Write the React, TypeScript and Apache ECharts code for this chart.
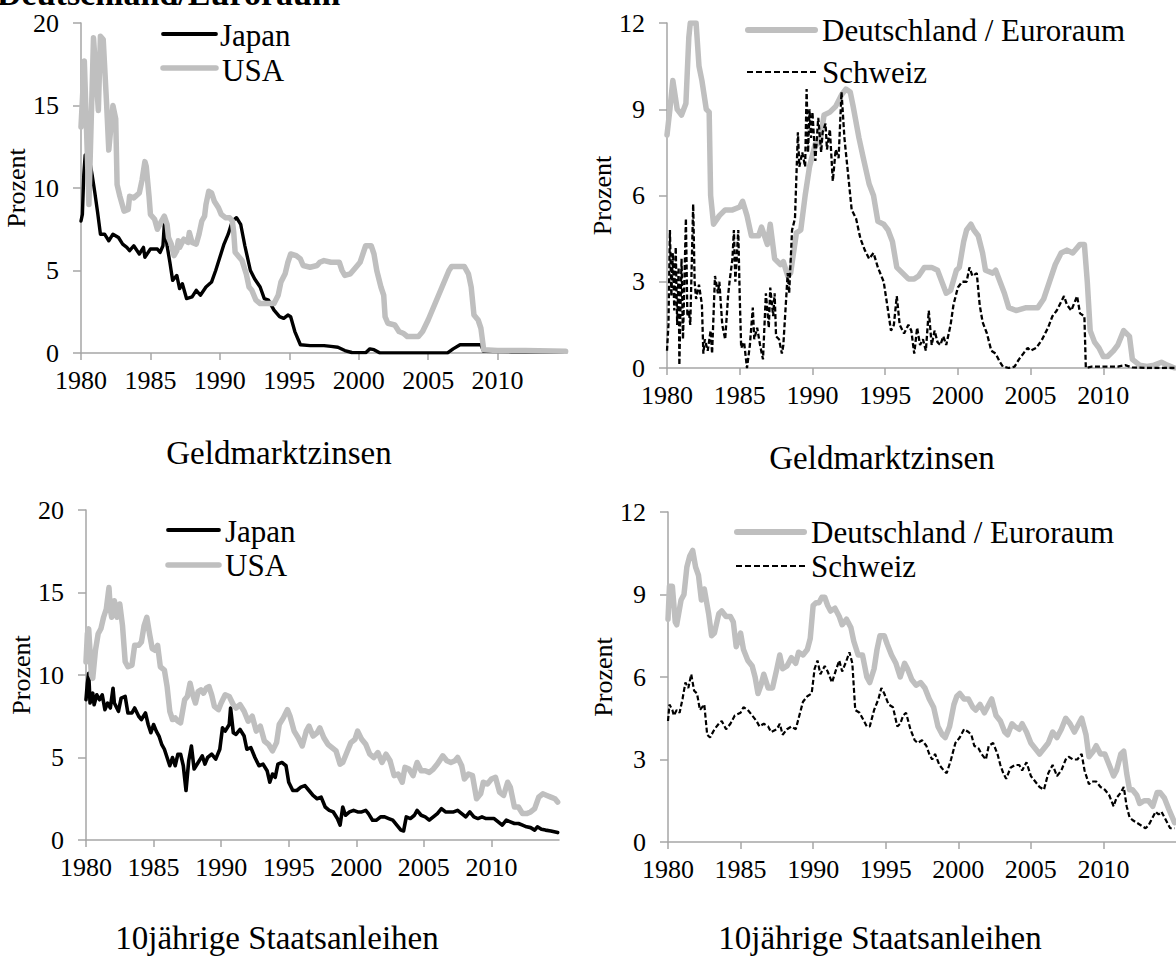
import React, { useEffect, useRef } from "react";
import * as echarts from "echarts";

// ---------- data: [year, percent] ----------
const xTicks = [1980, 1985, 1990, 1995, 2000, 2005, 2010];

const japanMoney = [
  [1980.0, 8.0], [1980.1, 8.4], [1980.2, 10.8], [1980.3, 12.0], [1980.55, 12.0], [1980.8, 10.8], [1981.0, 9.7],
  [1981.2, 8.5], [1981.4, 7.2], [1981.7, 7.2], [1982.0, 6.8], [1982.3, 7.2], [1982.7, 7.0], [1983.0, 6.6],
  [1983.3, 6.4], [1983.5, 6.2], [1983.8, 6.5], [1984.2, 6.0], [1984.5, 6.4], [1984.6, 5.8], [1985.0, 6.3],
  [1985.5, 6.3], [1985.7, 6.1], [1985.9, 6.5], [1986.0, 7.8], [1986.2, 6.5], [1986.4, 5.5], [1986.6, 4.4],
  [1986.9, 4.7], [1987.1, 3.9], [1987.3, 4.2], [1987.6, 3.3], [1988.0, 3.4], [1988.3, 3.8], [1988.6, 3.5],
  [1989.0, 4.0], [1989.4, 4.3], [1989.7, 5.0], [1990.0, 5.8], [1990.3, 6.6], [1990.6, 7.2], [1990.9, 8.0],
  [1991.2, 8.2], [1991.5, 7.8], [1991.8, 6.5], [1992.2, 5.0], [1992.5, 4.5], [1992.9, 4.0], [1993.2, 3.3],
  [1993.5, 3.2], [1993.9, 2.6], [1994.3, 2.2], [1994.6, 2.1], [1994.9, 2.3], [1995.1, 2.2], [1995.4, 1.3],
  [1995.8, 0.5], [1996.5, 0.45], [1997.5, 0.45], [1998.0, 0.4], [1998.5, 0.35], [1999.0, 0.15], [1999.5, 0.03],
  [2000.5, 0.02], [2000.8, 0.25], [2001.1, 0.2], [2001.5, 0.01], [2006.4, 0.01], [2006.8, 0.25], [2007.3, 0.5],
  [2008.8, 0.5], [2009.0, 0.1], [2011.0, 0.08], [2013.0, 0.07], [2014.9, 0.06],
];

const usaMoney = [
  [1980.0, 13.7], [1980.24, 17.7], [1980.57, 9.0], [1980.9, 19.1], [1981.25, 14.7], [1981.4, 19.2],
  [1981.6, 19.0], [1981.85, 15.0], [1982.0, 12.3], [1982.3, 15.0], [1982.5, 14.2], [1982.6, 10.2],
  [1982.8, 9.5], [1983.1, 8.6], [1983.4, 8.7], [1983.5, 9.5], [1983.8, 9.4], [1984.2, 9.7], [1984.4, 10.5],
  [1984.6, 11.6], [1984.7, 11.3], [1984.9, 9.5], [1985.0, 8.4], [1985.3, 8.1], [1985.5, 7.5], [1985.8, 8.0],
  [1986.0, 8.3], [1986.2, 7.8], [1986.3, 7.0], [1986.5, 6.6], [1986.7, 5.9], [1986.9, 6.2], [1987.0, 6.8],
  [1987.1, 6.4], [1987.4, 6.9], [1987.7, 6.7], [1987.8, 7.3], [1988.0, 6.7], [1988.3, 6.6], [1988.5, 7.2],
  [1988.7, 8.0], [1988.9, 8.3], [1989.0, 9.0], [1989.2, 9.8], [1989.4, 9.7], [1989.6, 9.2], [1989.9, 8.8],
  [1990.1, 8.4], [1990.4, 8.2], [1990.7, 8.2], [1990.9, 8.0], [1991.0, 7.3], [1991.1, 6.1], [1991.4, 5.8],
  [1991.6, 5.6], [1991.9, 4.8], [1992.1, 4.0], [1992.3, 3.8], [1992.6, 3.2], [1992.9, 3.0], [1993.5, 3.0],
  [1993.9, 3.0], [1994.2, 3.5], [1994.4, 4.3], [1994.7, 4.8], [1994.9, 5.5], [1995.1, 6.0], [1995.5, 5.9],
  [1995.8, 5.7], [1996.0, 5.3], [1996.5, 5.2], [1997.0, 5.3], [1997.2, 5.5], [1997.5, 5.6], [1998.0, 5.5],
  [1998.6, 5.5], [1998.8, 5.0], [1999.0, 4.7], [1999.4, 4.8], [1999.8, 5.2], [2000.1, 5.5], [2000.3, 6.0],
  [2000.5, 6.5], [2000.9, 6.5], [2001.1, 6.0], [2001.3, 5.0], [2001.6, 4.0], [2001.8, 3.5], [2001.9, 2.2],
  [2002.1, 1.8], [2002.6, 1.7], [2002.9, 1.3], [2003.2, 1.2], [2003.5, 1.0], [2004.3, 1.0], [2004.6, 1.3],
  [2005.0, 2.0], [2005.5, 3.0], [2006.0, 4.0], [2006.5, 5.0], [2006.7, 5.25], [2007.6, 5.25], [2007.9, 4.8],
  [2008.1, 4.0], [2008.3, 2.3], [2008.6, 2.0], [2008.8, 1.5], [2009.0, 0.2], [2010.0, 0.15], [2012.0, 0.15],
  [2014.9, 0.1],
];

const deMoney = [
  [1980.0, 8.1], [1980.2, 9.0], [1980.4, 10.0], [1980.7, 9.0], [1981.0, 8.8], [1981.3, 9.2], [1981.5, 11.5],
  [1981.6, 12.0], [1982.0, 12.0], [1982.2, 10.5], [1982.4, 10.0], [1982.7, 9.0], [1982.9, 8.9], [1983.0, 6.0],
  [1983.2, 5.0], [1983.6, 5.3], [1984.0, 5.5], [1984.5, 5.5], [1985.0, 5.6], [1985.2, 5.8], [1985.5, 5.3],
  [1985.8, 4.6], [1986.3, 4.6], [1986.5, 4.9], [1986.9, 4.3], [1987.1, 5.0], [1987.4, 3.8], [1987.8, 3.6],
  [1988.0, 3.7], [1988.3, 3.2], [1988.5, 3.3], [1988.9, 4.7], [1989.2, 4.8], [1989.5, 6.0], [1989.8, 7.0],
  [1990.2, 7.8], [1990.5, 7.8], [1990.8, 8.8], [1991.2, 8.9], [1991.6, 9.1], [1992.0, 9.5], [1992.3, 9.7],
  [1992.6, 9.6], [1992.8, 9.1], [1993.2, 8.0], [1993.5, 7.3], [1993.9, 6.4], [1994.2, 6.0], [1994.5, 5.1],
  [1994.9, 5.0], [1995.2, 4.8], [1995.5, 4.4], [1995.8, 3.5], [1996.2, 3.3], [1996.6, 3.1], [1997.0, 3.1],
  [1997.3, 3.2], [1997.7, 3.5], [1998.2, 3.5], [1998.6, 3.4], [1998.9, 3.0], [1999.2, 2.6], [1999.5, 2.7],
  [1999.9, 3.4], [2000.1, 3.5], [2000.4, 4.4], [2000.6, 4.8], [2000.9, 5.0], [2001.1, 4.8], [2001.4, 4.6],
  [2001.7, 4.0], [2001.9, 3.4], [2002.4, 3.3], [2002.6, 3.4], [2002.9, 3.0], [2003.2, 2.6], [2003.5, 2.1],
  [2004.0, 2.0], [2004.7, 2.1], [2005.5, 2.1], [2005.9, 2.4], [2006.3, 3.0], [2006.7, 3.6], [2007.1, 4.0],
  [2007.5, 4.1], [2007.9, 4.0], [2008.4, 4.3], [2008.7, 4.3], [2008.9, 3.0], [2009.1, 1.3], [2009.4, 0.9],
  [2009.7, 0.7], [2010.0, 0.4], [2010.3, 0.4], [2010.7, 0.6], [2011.0, 0.8], [2011.4, 1.3], [2011.8, 1.1],
  [2012.0, 0.3], [2012.5, 0.1], [2013.0, 0.05], [2013.5, 0.1], [2014.0, 0.2], [2014.4, 0.1], [2014.9, 0.0],
];

const chMoney = [
  [1980.0, 0.6], [1980.1, 1.5], [1980.2, 4.8], [1980.3, 2.5], [1980.4, 4.0], [1980.5, 2.0], [1980.6, 4.2],
  [1980.7, 1.5], [1980.8, 3.5], [1980.85, 0.1], [1981.0, 3.8], [1981.1, 1.0], [1981.3, 5.2], [1981.4, 1.8],
  [1981.5, 2.0], [1981.6, 1.5], [1981.8, 5.7], [1981.9, 3.0], [1982.0, 2.4], [1982.2, 2.9], [1982.4, 2.2],
  [1982.5, 0.5], [1982.6, 1.0], [1982.8, 0.6], [1983.0, 1.3], [1983.1, 0.5], [1983.3, 3.2], [1983.5, 2.6],
  [1983.6, 3.0], [1983.8, 1.5], [1984.0, 1.0], [1984.2, 2.5], [1984.3, 3.0], [1984.5, 3.8], [1984.6, 4.8],
  [1984.7, 3.0], [1984.9, 4.8], [1985.0, 2.5], [1985.1, 0.7], [1985.3, 0.9], [1985.5, 0.0], [1985.7, 0.8],
  [1985.9, 2.1], [1986.0, 1.0], [1986.2, 1.4], [1986.4, 0.8], [1986.6, 0.3], [1986.8, 2.6], [1987.0, 1.4],
  [1987.1, 2.8], [1987.3, 1.8], [1987.4, 2.6], [1987.5, 1.1], [1987.7, 1.0], [1987.9, 0.5], [1988.0, 0.8],
  [1988.3, 3.3], [1988.4, 2.6], [1988.6, 4.8], [1988.8, 5.2], [1989.0, 8.2], [1989.1, 7.0], [1989.3, 7.5],
  [1989.5, 7.0], [1989.6, 9.7], [1989.7, 7.5], [1989.8, 9.0], [1989.9, 8.0], [1990.0, 8.9], [1990.2, 7.2],
  [1990.4, 8.7], [1990.6, 7.5], [1990.7, 8.2], [1990.9, 8.5], [1991.0, 7.6], [1991.2, 8.3], [1991.4, 6.5],
  [1991.6, 7.6], [1991.8, 7.3], [1992.0, 9.6], [1992.2, 8.0], [1992.5, 6.5], [1992.7, 5.5], [1993.0, 5.2],
  [1993.3, 4.5], [1993.6, 4.1], [1993.9, 3.8], [1994.2, 4.0], [1994.5, 3.5], [1994.9, 3.0], [1995.2, 2.0],
  [1995.4, 1.3], [1995.6, 1.5], [1995.8, 2.5], [1996.0, 1.5], [1996.3, 1.2], [1996.6, 1.5], [1996.8, 1.3],
  [1997.0, 0.5], [1997.2, 1.4], [1997.4, 0.8], [1997.6, 1.0], [1997.8, 0.6], [1998.0, 2.0], [1998.2, 0.8],
  [1998.4, 1.3], [1998.6, 0.9], [1998.8, 0.8], [1999.0, 1.1], [1999.2, 0.8], [1999.5, 1.5], [1999.7, 2.2],
  [2000.0, 2.8], [2000.3, 3.0], [2000.6, 3.0], [2000.8, 3.5], [2001.0, 3.2], [2001.3, 3.3], [2001.5, 2.2],
  [2001.7, 1.6], [2002.0, 1.2], [2002.3, 0.6], [2002.6, 0.5], [2002.9, 0.2], [2003.1, 0.05], [2003.5, 0.0],
  [2003.9, 0.05], [2004.2, 0.3], [2004.5, 0.5], [2004.8, 0.7], [2005.0, 0.6], [2005.4, 0.7], [2005.8, 1.0],
  [2006.2, 1.4], [2006.5, 1.8], [2006.8, 2.0], [2007.0, 2.2], [2007.3, 2.5], [2007.5, 2.2], [2007.8, 2.0],
  [2008.2, 2.5], [2008.4, 1.9], [2008.7, 1.8], [2008.8, 0.0], [2009.2, 0.05], [2010.0, 0.05], [2011.0, 0.05],
  [2011.5, 0.1], [2012.0, 0.02], [2013.0, 0.0], [2014.9, 0.0],
];

const japanBond = [
  [1980.0, 8.5], [1980.1, 9.5], [1980.2, 10.1], [1980.3, 8.3], [1980.5, 8.9], [1980.6, 8.2], [1980.8, 8.8],
  [1981.0, 8.5], [1981.2, 8.8], [1981.4, 7.9], [1981.6, 8.3], [1981.8, 8.0], [1982.0, 9.2], [1982.1, 8.3],
  [1982.4, 7.8], [1982.6, 8.6], [1982.9, 8.7], [1983.1, 7.7], [1983.4, 7.7], [1983.6, 8.0], [1983.9, 7.5],
  [1984.1, 7.3], [1984.4, 7.7], [1984.6, 7.0], [1984.8, 6.5], [1985.0, 7.0], [1985.2, 6.6], [1985.4, 6.3],
  [1985.6, 5.8], [1985.8, 5.5], [1986.0, 5.0], [1986.2, 4.5], [1986.4, 5.0], [1986.6, 4.5], [1986.8, 5.2],
  [1987.0, 5.2], [1987.2, 4.5], [1987.4, 3.0], [1987.6, 4.8], [1987.8, 5.7], [1988.0, 4.3], [1988.3, 4.7],
  [1988.6, 5.1], [1988.8, 4.6], [1989.0, 5.0], [1989.3, 5.2], [1989.6, 4.9], [1989.9, 5.5], [1990.1, 6.8],
  [1990.3, 6.6], [1990.6, 7.0], [1990.7, 8.0], [1990.9, 6.5], [1991.1, 6.4], [1991.4, 6.7], [1991.7, 6.3],
  [1991.9, 5.5], [1992.2, 5.6], [1992.5, 5.0], [1992.8, 4.5], [1993.1, 4.6], [1993.4, 4.2], [1993.6, 3.5],
  [1993.8, 4.0], [1994.0, 3.8], [1994.2, 4.6], [1994.5, 4.7], [1994.8, 4.5], [1995.0, 3.5], [1995.3, 3.0],
  [1995.6, 3.0], [1995.9, 3.2], [1996.2, 3.3], [1996.5, 3.0], [1996.8, 2.7], [1997.1, 2.5], [1997.4, 2.6],
  [1997.7, 2.0], [1998.0, 1.8], [1998.3, 1.7], [1998.6, 1.3], [1998.8, 0.9], [1999.0, 2.0], [1999.2, 1.5],
  [1999.5, 1.7], [1999.8, 1.8], [2000.1, 1.7], [2000.4, 1.7], [2000.7, 1.8], [2000.9, 1.6], [2001.2, 1.2],
  [2001.5, 1.2], [2001.8, 1.4], [2002.1, 1.4], [2002.4, 1.3], [2002.7, 1.2], [2003.0, 0.9], [2003.3, 0.6],
  [2003.5, 0.55], [2003.7, 1.4], [2004.0, 1.3], [2004.3, 1.5], [2004.5, 1.8], [2004.8, 1.5], [2005.1, 1.4],
  [2005.4, 1.2], [2005.7, 1.4], [2006.0, 1.6], [2006.3, 1.9], [2006.6, 1.7], [2006.9, 1.7], [2007.2, 1.7],
  [2007.5, 1.8], [2007.8, 1.6], [2008.1, 1.4], [2008.4, 1.7], [2008.7, 1.4], [2009.0, 1.3], [2009.3, 1.4],
  [2009.6, 1.3], [2009.9, 1.3], [2010.2, 1.3], [2010.5, 1.1], [2010.8, 0.9], [2011.1, 1.2], [2011.4, 1.1],
  [2011.7, 1.0], [2012.0, 1.0], [2012.3, 0.9], [2012.6, 0.8], [2012.9, 0.75], [2013.2, 0.6], [2013.4, 0.8],
  [2013.7, 0.65], [2014.0, 0.6], [2014.4, 0.55], [2014.9, 0.45],
];

const usaBond = [
  [1980.0, 10.8], [1980.1, 12.5], [1980.2, 12.8], [1980.4, 10.0], [1980.5, 9.8], [1980.7, 11.5], [1980.9, 12.5],
  [1981.1, 12.8], [1981.3, 13.5], [1981.5, 14.0], [1981.7, 15.3], [1981.8, 14.0], [1981.9, 13.5], [1982.1, 14.5],
  [1982.3, 13.5], [1982.5, 14.3], [1982.7, 13.0], [1982.9, 10.8], [1983.1, 10.5], [1983.4, 10.6], [1983.6, 11.8],
  [1983.9, 11.8], [1984.1, 12.0], [1984.3, 13.0], [1984.5, 13.5], [1984.7, 12.5], [1984.9, 11.6], [1985.1, 11.5],
  [1985.3, 11.8], [1985.5, 10.5], [1985.8, 10.3], [1986.0, 9.3], [1986.2, 7.8], [1986.4, 7.3], [1986.6, 7.4],
  [1986.8, 7.2], [1987.0, 7.1], [1987.3, 8.5], [1987.5, 8.7], [1987.7, 9.5], [1987.9, 8.8], [1988.1, 8.3],
  [1988.3, 9.0], [1988.5, 9.1], [1988.7, 8.9], [1988.9, 9.2], [1989.1, 9.3], [1989.3, 8.8], [1989.5, 8.1],
  [1989.8, 7.9], [1990.0, 8.3], [1990.3, 8.8], [1990.6, 8.7], [1990.9, 8.2], [1991.1, 8.0], [1991.4, 8.2],
  [1991.7, 7.8], [1992.0, 7.2], [1992.3, 7.5], [1992.6, 6.6], [1992.9, 6.9], [1993.2, 6.0], [1993.5, 5.8],
  [1993.8, 5.4], [1994.1, 5.9], [1994.3, 7.0], [1994.6, 7.4], [1994.9, 7.9], [1995.1, 7.5], [1995.4, 6.6],
  [1995.7, 6.2], [1996.0, 5.7], [1996.3, 6.6], [1996.5, 6.9], [1996.8, 6.3], [1997.1, 6.5], [1997.3, 6.8],
  [1997.6, 6.2], [1997.9, 5.8], [1998.2, 5.6], [1998.5, 5.4], [1998.8, 4.6], [1999.0, 4.7], [1999.3, 5.3],
  [1999.6, 5.9], [1999.9, 6.1], [2000.1, 6.6], [2000.4, 6.1], [2000.7, 5.8], [2001.0, 5.2], [2001.3, 5.0],
  [2001.6, 5.3], [2001.9, 4.7], [2002.2, 5.2], [2002.5, 4.8], [2002.8, 3.9], [2003.1, 4.0], [2003.4, 3.5],
  [2003.6, 4.4], [2003.9, 4.3], [2004.2, 3.9], [2004.5, 4.7], [2004.8, 4.2], [2005.1, 4.2], [2005.4, 4.1],
  [2005.7, 4.3], [2006.0, 4.6], [2006.4, 5.1], [2006.7, 4.8], [2007.0, 4.7], [2007.3, 4.8], [2007.5, 5.0],
  [2007.8, 4.5], [2008.0, 3.7], [2008.3, 4.0], [2008.6, 3.9], [2008.9, 2.5], [2009.2, 2.8], [2009.4, 3.5],
  [2009.7, 3.4], [2010.0, 3.7], [2010.3, 3.8], [2010.6, 2.9], [2010.9, 2.7], [2011.2, 3.5], [2011.4, 3.2],
  [2011.7, 2.0], [2012.0, 2.0], [2012.3, 1.6], [2012.6, 1.6], [2012.9, 1.7], [2013.2, 1.9], [2013.5, 2.6],
  [2013.8, 2.8], [2014.1, 2.7], [2014.4, 2.6], [2014.7, 2.5], [2014.9, 2.3],
];

const deBond = [
  [1980.0, 8.1], [1980.1, 9.3], [1980.3, 9.3], [1980.5, 8.0], [1980.6, 7.9], [1980.9, 8.8], [1981.1, 9.0],
  [1981.3, 10.0], [1981.5, 10.4], [1981.7, 10.6], [1981.9, 10.0], [1982.1, 9.7], [1982.3, 8.8], [1982.5, 9.2],
  [1982.8, 8.3], [1983.0, 7.5], [1983.2, 7.6], [1983.5, 8.3], [1983.7, 8.4], [1984.0, 8.2], [1984.3, 8.2],
  [1984.5, 8.0], [1984.7, 7.1], [1985.0, 7.6], [1985.2, 7.0], [1985.5, 6.6], [1985.8, 6.4], [1986.0, 6.0],
  [1986.2, 5.4], [1986.4, 5.7], [1986.6, 6.1], [1986.9, 5.6], [1987.2, 5.6], [1987.5, 6.3], [1987.7, 6.8],
  [1987.9, 6.3], [1988.2, 6.4], [1988.5, 6.7], [1988.8, 6.5], [1989.0, 6.9], [1989.3, 6.8], [1989.6, 7.0],
  [1989.8, 7.4], [1990.0, 8.6], [1990.2, 8.7], [1990.4, 8.7], [1990.6, 8.9], [1990.8, 8.9], [1991.0, 8.6],
  [1991.2, 8.4], [1991.5, 8.5], [1991.8, 8.2], [1992.0, 7.9], [1992.3, 8.1], [1992.6, 7.8], [1992.8, 7.3],
  [1993.1, 6.8], [1993.4, 6.8], [1993.7, 6.0], [1993.9, 5.8], [1994.2, 6.3], [1994.4, 7.0], [1994.6, 7.5],
  [1994.9, 7.5], [1995.1, 7.2], [1995.4, 6.8], [1995.7, 6.5], [1996.0, 6.0], [1996.3, 6.5], [1996.5, 6.3],
  [1996.8, 5.9], [1997.1, 5.7], [1997.4, 5.8], [1997.7, 5.6], [1998.0, 5.2], [1998.3, 4.9], [1998.6, 4.2],
  [1998.9, 3.9], [1999.1, 3.8], [1999.4, 4.2], [1999.7, 5.0], [1999.9, 5.3], [2000.1, 5.4], [2000.4, 5.2],
  [2000.7, 5.2], [2001.0, 4.9], [2001.2, 4.8], [2001.5, 5.0], [2001.8, 4.7], [2002.0, 4.9], [2002.3, 5.2],
  [2002.6, 4.6], [2002.9, 4.4], [2003.2, 4.0], [2003.4, 3.9], [2003.7, 4.3], [2003.9, 4.2], [2004.2, 4.1],
  [2004.4, 4.3], [2004.7, 4.0], [2005.0, 3.6], [2005.3, 3.4], [2005.6, 3.2], [2005.9, 3.4], [2006.2, 3.6],
  [2006.5, 4.0], [2006.8, 3.8], [2007.1, 4.1], [2007.4, 4.5], [2007.7, 4.3], [2008.0, 4.0], [2008.3, 4.3],
  [2008.5, 4.5], [2008.8, 3.9], [2009.0, 3.1], [2009.3, 3.3], [2009.5, 3.5], [2009.8, 3.2], [2010.1, 3.2],
  [2010.4, 2.8], [2010.7, 2.4], [2010.9, 2.6], [2011.2, 3.2], [2011.4, 3.3], [2011.6, 2.5], [2011.8, 1.9],
  [2012.0, 1.9], [2012.3, 1.7], [2012.5, 1.4], [2012.8, 1.5], [2013.1, 1.5], [2013.4, 1.3], [2013.7, 1.8],
  [2013.9, 1.8], [2014.2, 1.6], [2014.5, 1.2], [2014.9, 0.7],
];

const chBond = [
  [1980.0, 4.4], [1980.1, 5.0], [1980.3, 4.8], [1980.4, 4.6], [1980.6, 4.8], [1980.8, 4.7], [1981.0, 5.2],
  [1981.2, 5.8], [1981.4, 5.6], [1981.6, 6.1], [1981.8, 5.5], [1982.0, 5.4], [1982.2, 4.8], [1982.5, 5.0],
  [1982.7, 3.9], [1982.9, 3.8], [1983.2, 4.1], [1983.5, 4.3], [1983.7, 4.4], [1984.0, 4.1], [1984.3, 4.3],
  [1984.6, 4.6], [1985.0, 4.7], [1985.2, 4.9], [1985.5, 4.8], [1985.8, 4.6], [1986.1, 4.4], [1986.3, 4.2],
  [1986.6, 4.3], [1986.9, 4.2], [1987.1, 4.0], [1987.5, 4.1], [1987.7, 4.3], [1987.9, 3.9], [1988.2, 4.1],
  [1988.5, 4.2], [1988.8, 4.1], [1989.0, 4.5], [1989.3, 5.1], [1989.6, 5.3], [1989.9, 5.4], [1990.1, 6.3],
  [1990.3, 6.6], [1990.5, 6.1], [1990.8, 6.4], [1991.0, 6.2], [1991.3, 5.8], [1991.6, 6.3], [1991.8, 6.6],
  [1992.0, 6.2], [1992.3, 6.6], [1992.5, 6.9], [1992.7, 6.5], [1992.9, 4.8], [1993.2, 4.7], [1993.5, 4.4],
  [1993.7, 4.2], [1993.9, 4.2], [1994.2, 4.8], [1994.5, 5.2], [1994.7, 5.6], [1994.9, 5.4], [1995.2, 5.0],
  [1995.5, 4.9], [1995.8, 4.2], [1996.0, 4.3], [1996.2, 4.6], [1996.4, 4.7], [1996.7, 4.1], [1997.0, 3.7],
  [1997.2, 3.6], [1997.5, 3.7], [1997.8, 3.5], [1998.0, 3.2], [1998.2, 3.0], [1998.4, 3.2], [1998.7, 2.8],
  [1999.0, 2.6], [1999.2, 2.5], [1999.5, 3.0], [1999.8, 3.6], [2000.1, 3.8], [2000.4, 4.1], [2000.7, 4.0],
  [2000.9, 3.9], [2001.1, 3.5], [2001.4, 3.4], [2001.6, 3.2], [2001.9, 3.0], [2002.1, 3.5], [2002.4, 3.6],
  [2002.7, 3.2], [2002.9, 2.8], [2003.1, 2.5], [2003.3, 2.3], [2003.6, 2.7], [2003.9, 2.8], [2004.2, 2.8],
  [2004.4, 2.6], [2004.7, 2.9], [2005.0, 2.4], [2005.3, 2.2], [2005.6, 2.0], [2005.9, 1.9], [2006.2, 2.5],
  [2006.5, 2.8], [2006.8, 2.4], [2007.1, 2.6], [2007.4, 3.0], [2007.6, 3.1], [2007.9, 3.0], [2008.2, 3.0],
  [2008.5, 3.2], [2008.7, 2.6], [2009.0, 2.1], [2009.2, 2.2], [2009.5, 2.2], [2009.8, 2.0], [2010.1, 1.9],
  [2010.4, 1.7], [2010.7, 1.3], [2010.9, 1.6], [2011.2, 1.8], [2011.4, 2.0], [2011.6, 1.3], [2011.8, 0.9],
  [2012.0, 0.8], [2012.3, 0.7], [2012.6, 0.6], [2012.9, 0.5], [2013.1, 0.6], [2013.3, 0.8], [2013.6, 1.1],
  [2013.8, 1.0], [2014.0, 1.1], [2014.3, 0.8], [2014.6, 0.5], [2014.9, 0.5],
];

// ---------- styling ----------
const FONT = '"Liberation Serif", "Times New Roman", serif';
const GREY = "#bfbfbf";
const AXIS = "#a6a6a6";

const grids = [
  { left: 81, top: 23, width: 486, height: 330, yMax: 20, yInt: 5, nameGap: 46 },
  { left: 667, top: 23, width: 514, height: 345, yMax: 12, yInt: 3, nameGap: 41 },
  { left: 86, top: 510, width: 473, height: 330, yMax: 20, yInt: 5, nameGap: 51 },
  { left: 668, top: 512, width: 511, height: 330, yMax: 12, yInt: 3, nameGap: 41 },
];

function buildOption() {
  const grid = grids.map((g) => ({ left: g.left, top: g.top, width: g.width, height: g.height, containLabel: false }));
  const xAxis = grids.map((_, i) => ({
    type: "value",
    gridIndex: i,
    min: 1980,
    max: 2015,
    interval: 5,
    splitLine: { show: false },
    axisLine: { show: true, lineStyle: { color: AXIS, width: 1.5 } },
    axisTick: { show: true, length: 7, lineStyle: { color: AXIS, width: 1.5 }, customValues: xTicks },
    axisLabel: {
      color: "#000",
      fontFamily: FONT,
      fontSize: 26,
      margin: 14,
      customValues: xTicks,
      formatter: (v: number) => (v % 5 === 0 && v < 2015 ? String(v) : ""),
    },
  }));
  const yAxis = grids.map((g, i) => ({
    type: "value",
    gridIndex: i,
    min: 0,
    max: g.yMax,
    interval: g.yInt,
    name: "Prozent",
    nameLocation: "middle",
    nameRotate: 90,
    nameGap: g.nameGap,
    nameTextStyle: { color: "#000", fontFamily: FONT, fontSize: 26 },
    splitLine: { show: false },
    axisLine: { show: true, lineStyle: { color: AXIS, width: 1.5 } },
    axisTick: { show: true, length: 8, lineStyle: { color: AXIS, width: 1.5 } },
    axisLabel: { color: "#000", fontFamily: FONT, fontSize: 26, margin: 22 },
  }));

  const line = (name: string, idx: number, data: number[][], color: string, width: number, dashed?: boolean) => ({
    name,
    type: "line",
    xAxisIndex: idx,
    yAxisIndex: idx,
    data,
    symbol: "none",
    showSymbol: false,
    lineStyle: dashed
      ? { color, width, type: [5, 2.5] }
      : { color, width, cap: "round", join: "round" },
    emphasis: { disabled: true },
    clip: true,
  });

  const series = [
    line("Japan", 0, japanMoney, "#000", 3.4),
    line("USA", 0, usaMoney, GREY, 5.5),
    line("Deutschland / Euroraum", 1, deMoney, GREY, 5.5),
    line("Schweiz", 1, chMoney, "#000", 2.3, true),
    line("Japan", 2, japanBond, "#000", 3.6),
    line("USA", 2, usaBond, GREY, 5.5),
    line("Deutschland / Euroraum", 3, deBond, GREY, 5.5),
    line("Schweiz", 3, chBond, "#000", 2.2, true),
  ];

  const legText = (text: string, x: number, y: number, size = 31) => ({
    type: "text",
    x,
    y,
    silent: true,
    style: { text, fill: "#000", font: `${size}px ${FONT}`, align: "left", verticalAlign: "middle" },
  });
  const legLine = (x1: number, x2: number, y: number, color: string, w: number, dash?: number[]) => ({
    type: "line",
    silent: true,
    shape: { x1, y1: y, x2, y2: y },
    style: { stroke: color, lineWidth: w, lineDash: dash, lineCap: dash ? "butt" : "round" },
  });
  const title = (text: string, cx: number, cy: number) => ({
    type: "text",
    x: cx,
    y: cy,
    silent: true,
    style: { text, fill: "#000", font: `33px ${FONT}`, align: "center", verticalAlign: "middle" },
  });

  const graphic = [
    // cut-off heading at the very top
    {
      type: "text",
      x: -3,
      y: -7,
      silent: true,
      style: { text: "Deutschland/Euroraum", fill: "#000", font: `bold 34px ${FONT}`, align: "left", verticalAlign: "middle" },
    },
    legLine(163, 216, 34, "#000", 3.8),
    legText("Japan", 220, 35),
    legLine(163, 216, 68, GREY, 5.5),
    legText("USA", 222, 70),

    legLine(748, 815, 30, GREY, 6),
    legText("Deutschland / Euroraum", 822, 30),
    legLine(747, 816, 72, "#000", 2.2, [6, 3]),
    legText("Schweiz", 822, 72),

    legLine(168, 219, 530, "#000", 3.8),
    legText("Japan", 225, 531),
    legLine(168, 219, 565, GREY, 5.5),
    legText("USA", 225, 565),

    legLine(737, 804, 532, GREY, 6),
    legText("Deutschland / Euroraum", 811, 532),
    legLine(736, 805, 566, "#000", 2.2, [6, 3]),
    legText("Schweiz", 811, 566),

    title("Geldmarktzinsen", 279, 453),
    title("Geldmarktzinsen", 882, 458),
    title("10jährige Staatsanleihen", 277, 938),
    title("10jährige Staatsanleihen", 880, 938),
  ];

  return {
    animation: false,
    backgroundColor: "#ffffff",
    grid,
    xAxis,
    yAxis,
    series,
    graphic,
  };
}

export default function App() {
  const ref = useRef<HTMLDivElement>(null);
  useEffect(() => {
    if (!ref.current) return;
    const chart = echarts.init(ref.current, undefined, { renderer: "svg" });
    chart.setOption(buildOption() as any);
    return () => chart.dispose();
  }, []);
  return (
    <div
      ref={ref}
      style={{ position: "absolute", left: 0, top: 0, width: 1176, height: 958, background: "#fff" }}
    />
  );
}
